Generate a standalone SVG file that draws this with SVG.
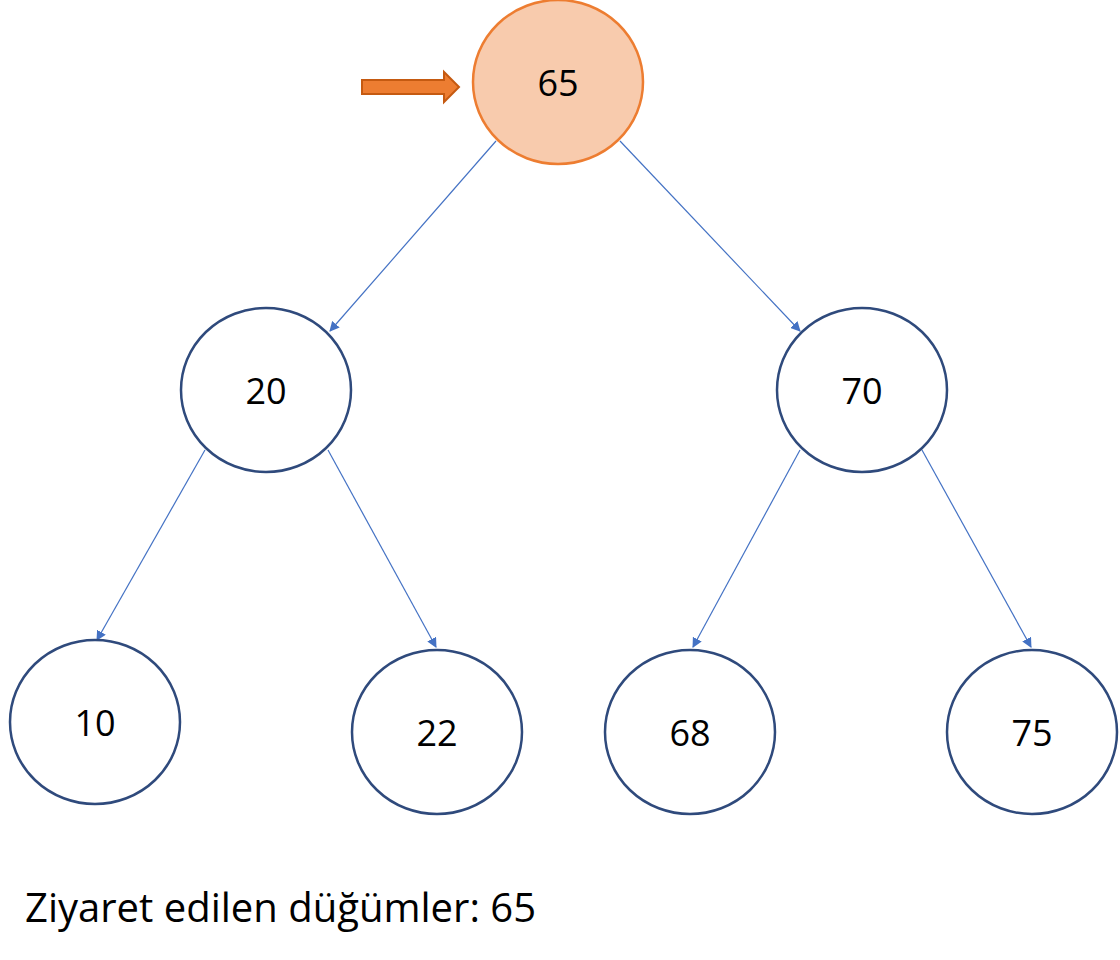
<svg xmlns="http://www.w3.org/2000/svg" width="1120" height="960" viewBox="0 0 1120 960">
<defs>
<style>
.n{fill:#fff;stroke:#2f4a7c;stroke-width:2.5}
.r{fill:#f8cbad;stroke:#ed7d31;stroke-width:2.5}
.t{font-family:"Open Sans","Liberation Sans",sans-serif;font-size:36px;fill:#000;text-anchor:middle;dominant-baseline:central}
.e{stroke:#4472c4;stroke-width:1.2;fill:none;marker-end:url(#a)}
</style>
<marker id="a" viewBox="0 0 10 10" refX="9" refY="5" markerWidth="10" markerHeight="10" markerUnits="userSpaceOnUse" orient="auto"><path d="M0,0L10,5L0,10z" fill="#4472c4"/></marker>
</defs>
<rect width="1120" height="960" fill="#fff"/>
<g id="connectors">
<line class="e" x1="496" y1="141" x2="330" y2="331"/>
<line class="e" x1="620" y1="141" x2="800" y2="331"/>
<line class="e" x1="205" y1="450" x2="97" y2="640"/>
<line class="e" x1="328" y1="450" x2="436" y2="647"/>
<line class="e" x1="800" y1="450" x2="693" y2="647"/>
<line class="e" x1="922" y1="450" x2="1031" y2="647"/>
</g>
<g id="pointer"><path d="M362,80H444V72L459,87L444,102V94H362Z" fill="#ed7d31" stroke="#c55a11" stroke-width="2"/></g>
<g id="n65"><ellipse class="r" cx="558" cy="82" rx="85" ry="82"/><text class="t" x="558" y="82">65</text></g>
<g id="n20"><ellipse class="n" cx="266" cy="390" rx="85" ry="82"/><text class="t" x="266" y="390">20</text></g>
<g id="n70"><ellipse class="n" cx="862" cy="390" rx="85" ry="82"/><text class="t" x="862" y="390">70</text></g>
<g id="n10"><ellipse class="n" cx="95" cy="722" rx="85" ry="82"/><text class="t" x="95" y="722">10</text></g>
<g id="n22"><ellipse class="n" cx="437" cy="732" rx="85" ry="82"/><text class="t" x="437" y="732">22</text></g>
<g id="n68"><ellipse class="n" cx="690" cy="732" rx="85" ry="82"/><text class="t" x="690" y="732">68</text></g>
<g id="n75"><ellipse class="n" cx="1032" cy="732" rx="85" ry="82"/><text class="t" x="1032" y="732">75</text></g>
<text x="25" y="922" font-family="'Open Sans','Liberation Sans',sans-serif" font-size="40">Ziyaret edilen düğümler: 65</text>
</svg>
